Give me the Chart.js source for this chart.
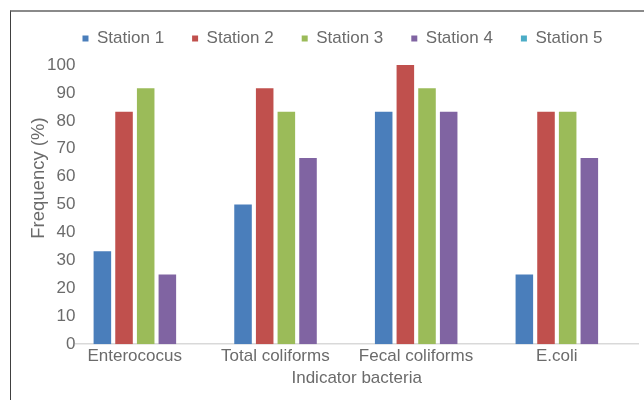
<!DOCTYPE html>
<html>
<head>
<meta charset="utf-8">
<script src="https://cdn.jsdelivr.net/npm/chart.js@4"></script>
<style>
    html, body { margin: 0; padding: 0; background: #fff; overflow: hidden; }
    .frame {
        position: absolute; left: 10px; top: 10px; width: 700px; height: 460px;
        border-top: 2px solid #8a8a8a; border-left: 1px solid #404040;
    }
    .wrap { position: absolute; left: 0; top: 0; width: 644px; height: 400px; }
</style>
</head>
<body>
<div class="frame"></div>
<div class="wrap"><canvas id="bacteriaChart"></canvas></div>
<script>
// data (looks like counts out of 12 samples)
var categories = ['Enterococus', 'Total coliforms', 'Fecal coliforms', 'E.coli'];
var stationNames = ['Station 1', 'Station 2', 'Station 3', 'Station 4', 'Station 5'];
var station1 = [33.3, 50, 83.3, 25];
var station2 = [83.3, 91.7, 100, 83.3];
var station3 = [91.7, 83.3, 91.7, 83.3];
var station4 = [25, 66.7, 83.3, 66.7];
var station5 = [0, 0, 0, 0];
var stationColors = ['#4a7ebb', '#c0504d', '#9bbb59', '#8064a2', '#4bacc6'];
var xTitle = 'Indicator bacteria';
var yTitle = 'Frequency (%)';

var textColor = '#6b6b6b';
var fontFamily = '"Liberation Sans", Arial, sans-serif';

var seriesValues = [station1, station2, station3, station4, station5];
var datasets = stationNames.map(function (name, i) {
    return {
        label: name,
        data: seriesValues[i],
        backgroundColor: stationColors[i],
        borderWidth: 0,
        categoryPercentage: 0.77,
        barPercentage: 0.81
    };
});

// y title sits a bit above the middle of the plot in the original
var yTitlePlugin = {
    id: 'yTitle',
    afterDraw: function (chart) {
        var ctx = chart.ctx;
        var area = chart.chartArea;
        ctx.save();
        ctx.translate(39, area.top + (area.bottom - area.top) * 0.405);
        ctx.rotate(-Math.PI / 2);
        ctx.font = '18.5px ' + fontFamily;
        ctx.fillStyle = textColor;
        ctx.textAlign = 'center';
        ctx.textBaseline = 'middle';
        ctx.fillText(yTitle, 0, 0);
        ctx.restore();
    }
};

// extra room under the legend
var legendGap = {
    id: 'legendGap',
    beforeInit: function (chart) {
        var origFit = chart.legend.fit;
        chart.legend.fit = function () {
            origFit.bind(chart.legend)();
            this.height += 8;
        };
    }
};

var ctx = document.getElementById('bacteriaChart').getContext('2d');
var bacteriaChart = new Chart(ctx, {
    type: 'bar',
    data: {
        labels: categories,
        datasets: datasets
    },
    options: {
        responsive: true,
        maintainAspectRatio: false,
        animation: false,
        layout: {
            padding: { left: 47, right: 6, top: 2, bottom: 7 }
        },
        plugins: {
            tooltip: { enabled: false },
            legend: {
                display: true,
                position: 'top',
                labels: {
                    boxWidth: 6,
                    boxHeight: 6,
                    padding: 28,
                    color: textColor,
                    font: { family: fontFamily, size: 17 }
                }
            }
        },
        scales: {
            x: {
                grid: { display: false, drawTicks: false },
                border: { display: true, color: '#d9d9d9', width: 1.5 },
                ticks: {
                    color: textColor,
                    font: { family: fontFamily, size: 17 },
                    padding: 2,
                    labelOffset: -11,
                    maxRotation: 0,
                    autoSkip: false
                },
                title: {
                    display: true,
                    text: xTitle,
                    color: textColor,
                    font: { family: fontFamily, size: 17 },
                    padding: { top: 0, bottom: 4 }
                }
            },
            y: {
                min: 0,
                max: 100,
                grid: { display: false, drawTicks: false },
                border: { display: false },
                ticks: {
                    stepSize: 10,
                    padding: 0,
                    color: textColor,
                    font: { family: fontFamily, size: 17 }
                }
            }
        }
    },
    plugins: [yTitlePlugin, legendGap]
});
</script>
</body>
</html>
